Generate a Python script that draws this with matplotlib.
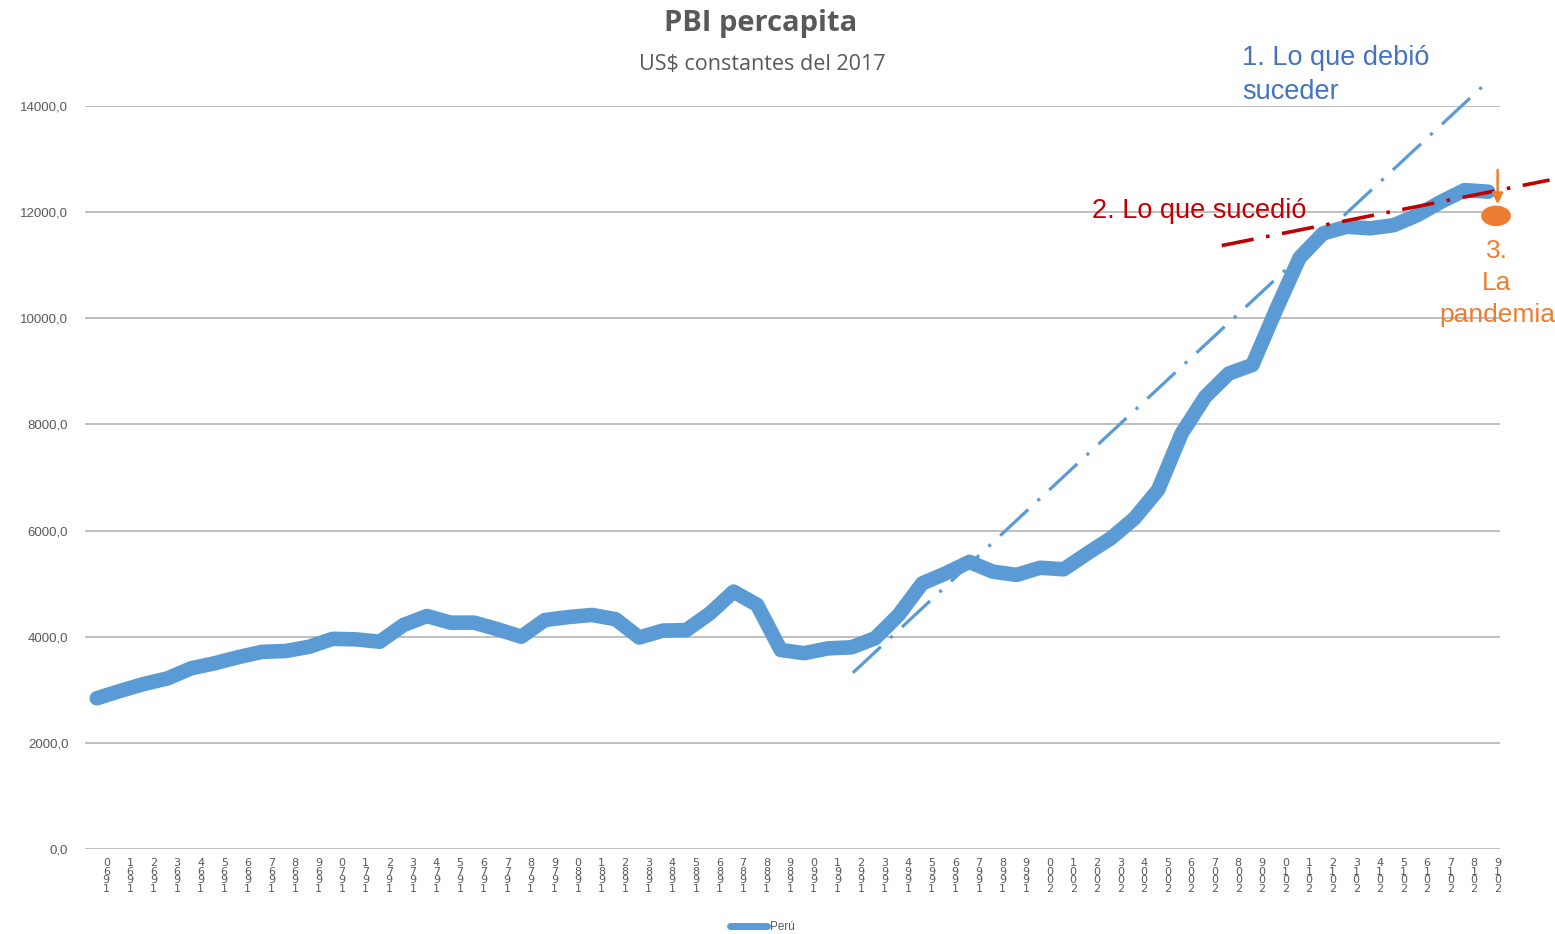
import matplotlib
matplotlib.use("Agg")
import matplotlib.pyplot as plt
import matplotlib.transforms as mtransforms
from matplotlib.patches import Ellipse
import numpy as np

years = list(range(1960, 2020))
peru = [2840, 2980, 3110, 3215, 3405, 3500, 3615, 3715, 3730, 3810,
        3960, 3950, 3905, 4220, 4390, 4265, 4265, 4140, 4000, 4315,
        4370, 4410, 4330, 3985, 4115, 4125, 4440, 4850, 4600, 3750,
        3690, 3780, 3800, 3970, 4410, 5005, 5195, 5410, 5225, 5165,
        5300, 5270, 5570, 5855, 6230, 6765, 7830, 8520, 8960, 9120,
        10155, 11140, 11600, 11725, 11695, 11755, 11945, 12195, 12415, 12385]
y_ticks = [0, 2000, 4000, 6000, 8000, 10000, 12000, 14000]

# annotation shapes (category index, value)
trend_should_x = [32.06, 58.86]
trend_should_y = [3320, 14410]
trend_did_x = [47.7, 61.6]
trend_did_y = [11370, 12605]
pandemic_arrow_x = 59.4
pandemic_arrow_y = [12795, 12150]
pandemic_dot = (59.33, 11930)

W, H = 1555, 934
fig = plt.figure(figsize=(W / 100, H / 100), dpi=100)
ax = fig.add_axes([85 / W, 1 - 849 / H, (1500 - 85) / W, (849 - 106) / H])

x = np.arange(len(years))
ax.set_xlim(-0.5, len(years) - 0.5)
ax.set_ylim(0, 14000)

for yt in y_ticks:
    ax.axhline(yt, color="#BFBFBF", lw=1.4, zorder=0)

ax.plot(x, peru, color="#5B9BD5", lw=10.5, solid_capstyle="round",
        solid_joinstyle="round", zorder=3, label="Perú")

for s in ax.spines.values():
    s.set_visible(False)
ax.tick_params(length=0)
ax.set_yticks(y_ticks)
ax.set_yticklabels([f"{v:.1f}".replace(".", ",") for v in y_ticks],
                   fontsize=9.5, color="#595959", family="Liberation Sans")
ax.tick_params(axis="y", pad=12)
ax.set_xticks([])

# stacked reversed year labels
off = mtransforms.ScaledTranslation(9.5 / 100, 0, fig.dpi_scale_trans)
btrans = mtransforms.blended_transform_factory(ax.transData, ax.transAxes) + off
for i, yr in enumerate(years):
    s = "\n".join(reversed(str(yr)))
    ax.text(i, -9 / 743, s, transform=btrans, ha="center", va="top",
            fontsize=8, color="#595959", linespacing=0.82,
            family="DejaVu Sans")

# trend lines
ax.plot(trend_should_x, trend_should_y, color="#5B9BD5", lw=2.3,
        dashes=(12, 4, 1, 4), clip_on=False, zorder=4)
ax.plot(trend_did_x, trend_did_y, color="#C00000", lw=2.6,
        dashes=(9, 3.5, 1, 3.5), clip_on=False, zorder=4)

# pandemic marker
ax.annotate("", xy=(pandemic_arrow_x, pandemic_arrow_y[1]),
            xytext=(pandemic_arrow_x, pandemic_arrow_y[0]),
            arrowprops=dict(arrowstyle="-|>", color="#ED7D31", lw=1.8,
                            mutation_scale=16, shrinkA=0, shrinkB=0),
            annotation_clip=False, zorder=5)
ax.add_patch(Ellipse(pandemic_dot, width=1.2, height=360, color="#ED7D31",
                     clip_on=False, zorder=5))

# texts
fig.text(1242 / W, 1 - 75 / H, "1. Lo que debió\nsuceder", ha="left",
         va="center", fontsize=19.5, color="#4472C4",
         family="Liberation Sans", linespacing=1.38)
fig.text(1092 / W, 1 - 211 / H, "2. Lo que sucedió", ha="left", va="center",
         fontsize=19.5, color="#C00000", family="Liberation Sans")
fig.text(1497 / W, 1 - 283 / H, "3.\nLa\npandemia", ha="center", va="center",
         multialignment="center", fontsize=19, color="#ED7D31",
         family="Liberation Sans", linespacing=1.4)

fig.text(761 / W, 1 - 24 / H, "PBI percapita", ha="center", va="center",
         fontsize=21, fontweight="bold", color="#595959", family="Open Sans")
fig.text(762 / W, 1 - 64 / H, "US$ constantes del 2017", ha="center",
         va="center", fontsize=15.5, color="#595959", family="Open Sans")

leg = ax.legend(loc="center", bbox_to_anchor=(762 / W, 1 - 927 / H),
                bbox_transform=fig.transFigure, frameon=False,
                handlelength=3.2, handletextpad=0.2,
                prop={"family": "Liberation Sans", "size": 8.5})
for t in leg.get_texts():
    t.set_color("#595959")
for l in leg.get_lines():
    l.set_linewidth(5)

fig.savefig("out.png", dpi=100)
